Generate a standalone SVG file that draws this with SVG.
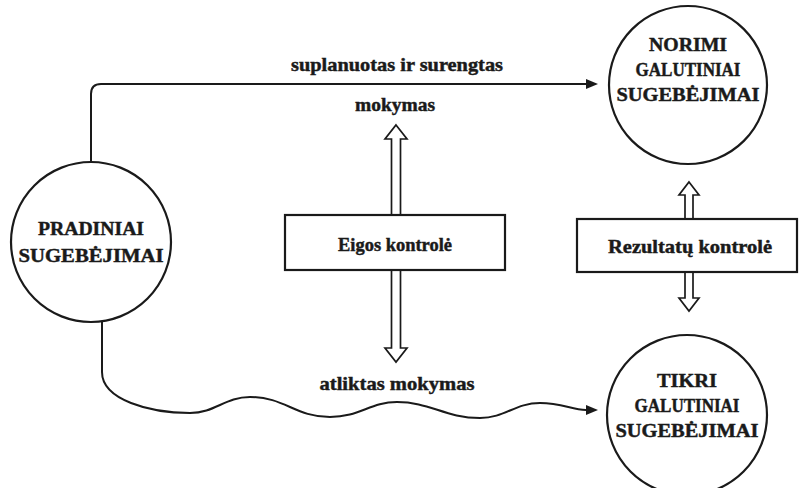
<svg xmlns="http://www.w3.org/2000/svg" width="799" height="488" viewBox="0 0 799 488">
  <style>
    .node { fill: #fff; stroke: #1a1a1a; stroke-width: 2.2; }
    .lbl { font-family: "Liberation Serif", "Times New Roman", serif; font-weight: bold; font-size: 19px; fill: #1a1a1a; stroke: #1a1a1a; stroke-width: 0.45; text-anchor: middle; }
    .edge { fill: none; stroke: #1a1a1a; stroke-width: 2; }
    .dbl { fill: #fff; stroke: #1a1a1a; stroke-width: 1.7; stroke-linejoin: miter; }
  </style>
  <defs>
    <marker id="arrow" viewBox="0 0 12 10" refX="0" refY="5" markerWidth="12" markerHeight="10" markerUnits="userSpaceOnUse" orient="auto">
      <path d="M0 0 L12 5 L0 10 Z" fill="#1a1a1a"/>
    </marker>
  </defs>
  <rect width="799" height="488" fill="#fff"/>

  <!-- connectors -->
  <g id="connectors">
    <path class="edge" d="M91 162 V94 Q91 84 101 84 H586" marker-end="url(#arrow)"/>
    <path class="edge" d="M102 321 V372 C102 400 150 413 190 413 C215 413 225 397 250 397 C285 397 295 417 330 417 C360 417 370 402 397 402 C430 402 445 418 480 418 C505 418 515 403 540 403 C562 403 572 410 586 410" marker-end="url(#arrow)"/>
    <text class="lbl" x="397" y="71" textLength="212" lengthAdjust="spacingAndGlyphs">suplanuotas ir surengtas</text>
    <text class="lbl" x="395" y="111" textLength="80" lengthAdjust="spacingAndGlyphs">mokymas</text>
    <text class="lbl" x="397" y="390" textLength="155" lengthAdjust="spacingAndGlyphs">atliktas mokymas</text>
    <!-- two-headed hollow arrows -->
    <path class="dbl" d="M396 125 L407 139 L400.5 139 L400.5 348 L407 348 L396 362 L385 348 L391.5 348 L391.5 139 L385 139 Z"/>
    <path class="dbl" d="M689 182 L699 195 L693 195 L693 298 L699 298 L689 311 L679 298 L685 298 L685 195 L679 195 Z"/>
  </g>

  <g id="pradiniai">
    <circle class="node" cx="91" cy="242" r="80"/>
    <text class="lbl" x="91" y="235" textLength="106" lengthAdjust="spacingAndGlyphs">PRADINIAI</text>
    <text class="lbl" x="91" y="262" textLength="145" lengthAdjust="spacingAndGlyphs">SUGEBĖJIMAI</text>
  </g>

  <g id="norimi">
    <circle class="node" cx="688" cy="85" r="79"/>
    <text class="lbl" x="688" y="51" textLength="78" lengthAdjust="spacingAndGlyphs">NORIMI</text>
    <text class="lbl" x="688" y="76" textLength="105" lengthAdjust="spacingAndGlyphs">GALUTINIAI</text>
    <text class="lbl" x="688" y="101" textLength="143" lengthAdjust="spacingAndGlyphs">SUGEBĖJIMAI</text>
  </g>

  <g id="tikri">
    <circle class="node" cx="687" cy="415" r="80"/>
    <text class="lbl" x="687" y="387" textLength="60" lengthAdjust="spacingAndGlyphs">TIKRI</text>
    <text class="lbl" x="687" y="412" textLength="105" lengthAdjust="spacingAndGlyphs">GALUTINIAI</text>
    <text class="lbl" x="687" y="437" textLength="143" lengthAdjust="spacingAndGlyphs">SUGEBĖJIMAI</text>
  </g>

  <g id="eigos">
    <rect class="node" x="285" y="215" width="220" height="55"/>
    <text class="lbl" x="395" y="251" textLength="114" lengthAdjust="spacingAndGlyphs">Eigos kontrolė</text>
  </g>

  <g id="rezultatu">
    <rect class="node" x="577" y="219" width="220" height="53"/>
    <text class="lbl" x="690" y="253" textLength="164" lengthAdjust="spacingAndGlyphs">Rezultatų kontrolė</text>
  </g>
</svg>
